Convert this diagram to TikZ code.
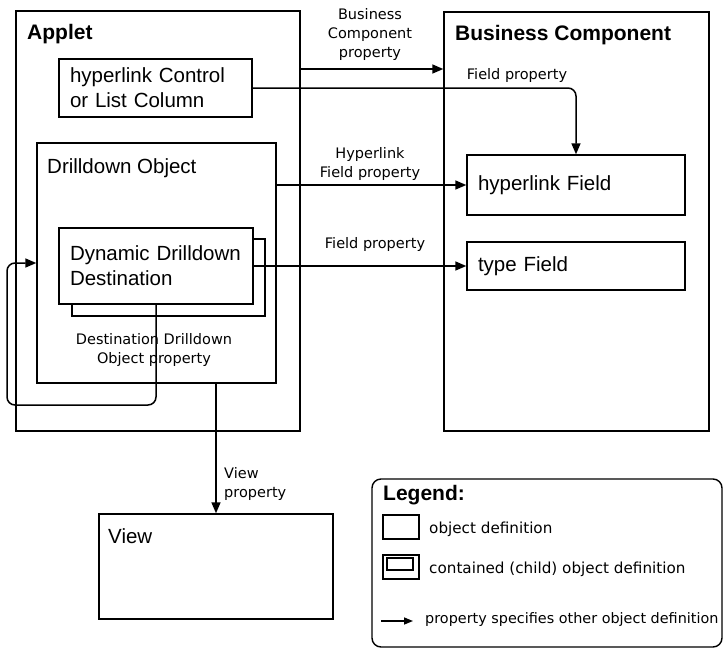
\documentclass[tikz,border=0pt]{standalone}
\usepackage{fontspec}
\setmainfont{Liberation Sans}
\newfontfamily\lblfont{DejaVu Sans}
\usetikzlibrary{positioning, arrows.meta}

\begin{document}
\begin{tikzpicture}[x=1pt, y=-1pt,
		obj/.style={draw, line width=1.4pt, rectangle, inner sep=0pt},
		txtbox/.style={obj, fill=white, inner xsep=11pt, inner ysep=0pt, align=left,
			font=\fontsize{20.5}{25}\selectfont},
		ttl/.style={anchor=base west, inner sep=0pt, font=\bfseries\fontsize{21}{25}\selectfont},
		sub/.style={anchor=base west, inner sep=0pt, font=\fontsize{20.5}{25}\selectfont},
		lbl/.style={inner sep=0pt, align=center, font=\lblfont\fontsize{14.5}{19}\selectfont},
		key/.style={inner sep=0pt, anchor=west, font=\lblfont\fontsize{15.2}{19}\selectfont},
		prop/.style={line width=1.5pt, -{Triangle[length=11pt, width=9pt]}}]
		\useasboundingbox (0,0) rectangle (724,649);
		
		% 外层对象：Applet 在左，Business Component 在右
		\node (applet) [obj, minimum width=284pt, minimum height=420pt] at (158,221) {};
		\node (bc) [obj, minimum width=265pt, minimum height=419pt] at (576.5,221.5) {};
		\node [ttl] at (27,39) {Applet};
		\node [ttl] at (455,40) {Business Component};
		
		% Applet 里的子对象
		\node (hlctl) [txtbox, text width=171pt, minimum height=58pt] at (155.5,88) 
			{hyperlink Control\\or List Column};
		\node (drill) [obj, minimum width=239pt, minimum height=240pt] at (156.5,263) {};
		\node [sub] at (47,173) {Drilldown Object};
		% 多个子对象：后面垫一个错开的框
		\node (dddback) [obj, minimum width=193pt, minimum height=77pt] at (168.5,277.5) {};
		\node (ddd) [txtbox, text width=172pt, minimum height=76pt] at (156,266)
			{Dynamic Drilldown\\Destination};
		
		% Business Component 里的字段
		\node (hlf) [txtbox, text width=196pt, minimum height=60pt] at (576,185) {hyperlink Field};
		\node (typef) [txtbox, text width=196pt, minimum height=48pt] at (576,266) {type Field};
		
		% View
		\node (view) [obj, minimum width=234pt, minimum height=105pt] at (216,566.5) {};
		\node [sub] at (108,543) {View};
		
		% ---------------------- 属性连线 ----------------------
		\draw[prop] (applet.east |- 0,69) -- (bc.west |- 0,69);
		\node [lbl] at (370,34) {Business\\Component\\property};
		
		\draw[prop, rounded corners=8pt] (hlctl.east) -| (hlf.north);
		\node [lbl] at (517,75) {Field property};
		
		\draw[prop] (drill.east |- hlf.west) -- (hlf.west);
		\node [lbl] at (370,164) {Hyperlink\\Field property};
		
		\draw[prop] (ddd.east) -- (typef.west);
		\node [lbl] at (375,244) {Field property};
		
		% 回指自身所在的 Drilldown Object（绕到 Applet 外面）
		\draw[prop, rounded corners=8pt] (ddd.south) |- (7,405) |- (drill.west);
		\node [lbl] at (154,350) {Destination Drilldown\\Object property};
		
		\draw[prop] (drill.south -| view.north) -- (view.north);
		\node [lbl, align=left, anchor=west] at (224,484) {View\\property};
		
		% ---------------------- 图例 ----------------------
		\node (legend) [obj, rounded corners=9pt, minimum width=350pt, minimum height=168pt] at (547,563) {};
		\node [ttl] at (383,500) {Legend:};
		\node (keyobj) [obj, minimum width=36pt, minimum height=24pt] at (401,527) {};
		\node [key] at (429,529) {object definition};
		\node (keychild) [obj, minimum width=36pt, minimum height=24pt] at (401,567) {};
		\node (keyinner) [obj, line width=1.1pt, minimum width=26pt, minimum height=12pt] at (400,564) {};
		\node [key] at (429,569) {contained (child) object definition};
		\coordinate (keya) at (381,621);
		\coordinate (keyb) at (413,621);
		\draw[prop, -{Triangle[length=9pt, width=7pt]}] (keya) -- (keyb);
		\node [key, font=\lblfont\fontsize{14.4}{19}\selectfont] at (425,620) {property specifies other object definition};
	\end{tikzpicture}
\end{document}
